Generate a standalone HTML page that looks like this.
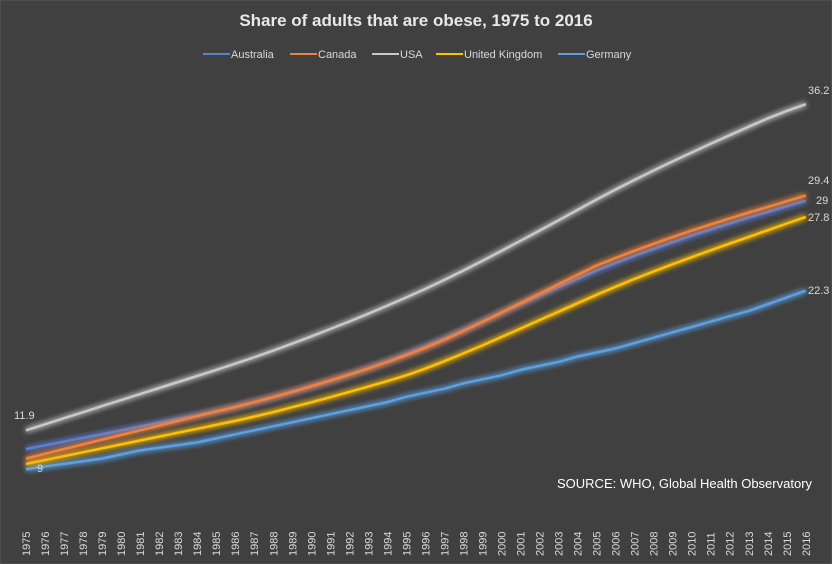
<!DOCTYPE html>
<html><head><meta charset="utf-8"><style>
html,body{margin:0;padding:0;background:#404040}
svg{display:block;font-family:"Liberation Sans",sans-serif}
</style></head><body>
<svg id="chart" width="832" height="564">
<defs><filter id="glow" x="-10%" y="-50%" width="120%" height="200%"><feGaussianBlur in="SourceGraphic" stdDeviation="3" result="b"/><feMerge><feMergeNode in="b"/><feMergeNode in="b"/><feMergeNode in="SourceGraphic"/></feMerge></filter></defs>
<rect x="0" y="0" width="832" height="564" fill="#404040" stroke="#5a5a5a"/>
<text x="416" y="26" text-anchor="middle" fill="#e8e8e8" font-size="17" font-weight="bold">Share of adults that are obese, 1975 to 2016</text>
<g id="legend"></g>
<g id="lines"></g>
<g id="labels"></g>
<g id="xaxis"></g>
<text x="557" y="488" fill="#ffffff" font-size="13">SOURCE: WHO, Global Health Observatory</text>
</svg>
<script>
const years = [1975,1976,1977,1978,1979,1980,1981,1982,1983,1984,1985,1986,1987,1988,1989,1990,1991,1992,1993,1994,1995,1996,1997,1998,1999,2000,2001,2002,2003,2004,2005,2006,2007,2008,2009,2010,2011,2012,2013,2014,2015,2016];
const australia = [10.5,10.78,11.06,11.34,11.62,11.9,12.18,12.46,12.74,13.02,13.3,13.63,13.98,14.35,14.74,15.15,15.58,16.03,16.51,17.02,17.56,18.13,18.73,19.35,19.99,20.64,21.29,21.94,22.58,23.2,23.8,24.36,24.9,25.42,25.92,26.4,26.86,27.31,27.75,28.17,28.59,29.0];
const canada = [9.8,10.15,10.5,10.85,11.2,11.55,11.9,12.25,12.6,12.95,13.3,13.64,14.0,14.38,14.78,15.19,15.61,16.05,16.51,16.99,17.5,18.05,18.65,19.3,19.98,20.68,21.38,22.08,22.78,23.48,24.18,24.74,25.28,25.8,26.3,26.78,27.24,27.69,28.13,28.55,28.97,29.4];
const usa = [11.9,12.35,12.8,13.25,13.7,14.15,14.6,15.05,15.5,15.95,16.4,16.86,17.34,17.84,18.36,18.9,19.45,20.01,20.59,21.19,21.8,22.44,23.11,23.81,24.53,25.27,26.02,26.78,27.55,28.32,29.1,29.84,30.56,31.26,31.94,32.6,33.25,33.89,34.52,35.14,35.7,36.2];
const uk = [9.4,9.69,9.98,10.27,10.56,10.85,11.14,11.43,11.72,12.01,12.3,12.6,12.92,13.26,13.62,13.99,14.37,14.76,15.16,15.57,16.0,16.5,17.05,17.63,18.23,18.85,19.48,20.11,20.74,21.37,22.0,22.6,23.18,23.74,24.28,24.8,25.31,25.81,26.31,26.81,27.31,27.8];
const germany = [9.0,9.2,9.4,9.6,9.8,10.1,10.4,10.6,10.8,11.0,11.3,11.6,11.9,12.2,12.5,12.8,13.1,13.4,13.7,14.0,14.4,14.7,15.0,15.4,15.7,16.0,16.4,16.7,17.0,17.4,17.7,18.0,18.4,18.8,19.2,19.6,20.0,20.4,20.8,21.3,21.8,22.3];
const seriesNames = ["Australia","Canada","USA","United Kingdom","Germany"];
const series = [australia, canada, usa, uk, germany];
const colors = ["#5a7fd6","#f0823a","#c8c8c8","#ffc000","#5ba0e0"];

const NS = "http://www.w3.org/2000/svg";
const xScale = i => 26 + i * 19.02;
const yScale = v => 590 - v * 13.42;
function mk(tag, attrs, parent, text) {
  const e = document.createElementNS(NS, tag);
  for (const k in attrs) e.setAttribute(k, attrs[k]);
  if (text !== undefined) e.textContent = text;
  parent.appendChild(e);
  return e;
}
const lines = document.getElementById("lines");
const order = [4,3,0,1,2];
order.forEach(si => {
  const d = series[si].map((v, i) => (i ? "L" : "M") + xScale(i).toFixed(1) + "," + yScale(v).toFixed(1)).join(" ");
  const p = mk("path", {d: d, fill: "none", stroke: colors[si], "stroke-width": 2.5, "stroke-linejoin": "round", filter: "url(#glow)"}, lines);
  
  
});
const legend = document.getElementById("legend");
const legX = [203, 290, 372, 436, 558];
seriesNames.forEach((n, i) => {
  const g = mk("g", {}, legend);
  
  
  mk("line", {x1: legX[i], x2: legX[i] + 27, y1: 54, y2: 54, stroke: colors[i], "stroke-width": 2}, g);
  mk("text", {x: legX[i] + 28, y: 58, fill: "#d9d9d9", "font-size": 11}, g, n);
});
const labels = document.getElementById("labels");
const labs = [
  [14, 419, usa[0]], [37, 472, germany[0]],
  [808, 94, usa[41]], [808, 184, canada[41]], [816, 204, australia[41]], [808, 221, uk[41]], [808, 294, germany[41]]
];
labs.forEach(l => {
  const t = mk("text", {x: l[0], y: l[1], fill: "#d9d9d9", "font-size": 11}, labels, String(l[2]));
  
  
});
const xaxis = document.getElementById("xaxis");
years.forEach((y, i) => {
  const x = xScale(i) + 4;
  const t = mk("text", {x: x, y: 556, fill: "#d9d9d9", "font-size": 11, transform: "rotate(-90 " + x + " 556)"}, xaxis, String(y));
  
  
});
</script>
</body></html>
